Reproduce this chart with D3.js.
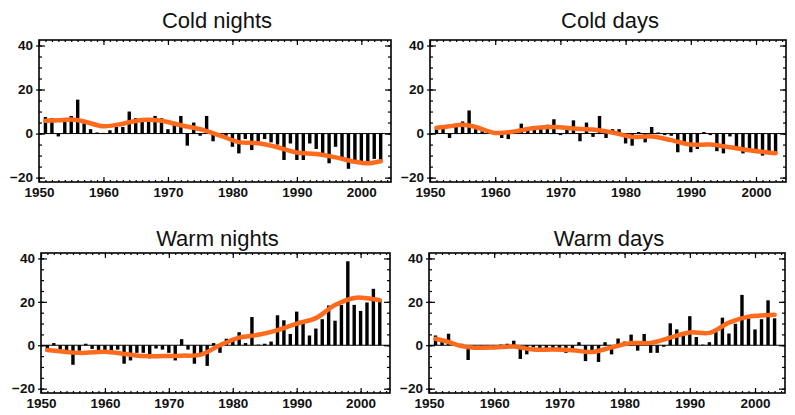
<!DOCTYPE html>
<html lang="en">
<head>
<meta charset="utf-8">
<title>Temperature extremes</title>
<script src="https://d3js.org/d3.v7.min.js"></script>
<style>
  body { margin: 0; background: #fff; }
  svg { display: block; }
  .tick text { font-family: "Liberation Sans", Arial, sans-serif; font-size: 13.5px; font-weight: bold; fill: #111; }
  .tick line { stroke: #000; stroke-width: 1.2; }
  .title { font-family: "Liberation Sans", Arial, sans-serif; font-size: 22px; fill: #111; }
</style>
</head>
<body>
<script>
// data (anomalies, %)
const years = d3.range(1951, 2004);

const coldNights = [7.5, 7, -1.3, 5.5, 8, 15.4, 4.7, 2, 0.5, 0.3, 1.5, 3, 3, 10, 7, 6, 6, 8, 7, 2,
  5, 8, -5.5, 5, -1, 8, -3.5, -0.5, -1, -6, -9, -2.5, -7.5, -5, -2.5, -4, -5, -12, -4.5, -12,
  -12, -4.5, -7, -10.5, -13.5, -6, -12, -16, -12.5, -13, -14, -11.5, -13];

const coldDays = [3, 2.5, -2, 4.5, 5.5, 10.5, 2, 1, 0.5, 0.3, -2, -2.5, 1, 4.5, 2, 2, 2.5, 4, 6.5, -0.7,
  2, 6, -3.5, 5, -1.5, 8, -2, 2, 2, -4.5, -5.5, 0.7, -4, 3, 0.5, -0.7, -1, -8.5, -4, -8.5,
  -7, 0.7, -0.7, -8, -9, -1.3, -6.5, -9, -7, -7.5, -10, -8, -9];

const warmNights = [-3, 1, -2, -2.5, -9, -2.5, 0.7, -1.7, -2.5, -3, -2.5, -2, -8.5, -7, -3.5, -3.5, -6, -1.5, -2, -3.5,
  -7, 2.8, -2, -8.5, -4, -9.5, 1, -3.5, 3, 2, 6, 1, 13, 0.3, 0.7, 1.7, 13.8, 11.5, 5.2, 15.5,
  11.3, 4.5, 7.7, 12, 18.3, 11.3, 18.6, 38.7, 18.6, 15.8, 19.7, 26, 20.4];

const warmDays = [4.5, 2, 5.3, 1, 0.7, -6.8, -0.7, -0.7, -0.7, -1.4, 0.3, 0.7, 2.1, -6.3, -4.2, -1, -2.8, -1.4, -2, -1.4,
  -3.5, -2, 1.4, -7.3, -3.5, -7.7, 1.4, -4.2, 3.1, 1.7, 4.9, -2.5, 5.2, -3.5, -3.5, -0.7, 10.1, 7.3, 5.2, 13.4,
  3.8, 0.3, 1.4, 6.3, 12.7, 5.4, 9.9, 23.2, 12.4, 7.3, 12, 20.7, 12.4];

// smoothed curves, read at these years
const smoothYears = [1951, 1953, 1955, 1957, 1960, 1963, 1966, 1969, 1972, 1975, 1978, 1981, 1984, 1987, 1990, 1993, 1996, 1999, 2001, 2003];
const coldNightsSmooth = [5.8, 6.0, 6.4, 5.5, 3.3, 4.5, 6.2, 5.8, 3.8, 2.0, -0.8, -3.9, -4.4, -6.2, -8.6, -9.3, -10.8, -12.8, -13.5, -12.6];
const coldDaysSmooth = [2.6, 3.3, 4.0, 3.0, 0.3, 1.0, 2.5, 3.0, 2.3, 1.8, 0.5, -1.5, -1.3, -3.0, -5.0, -5.0, -6.2, -7.6, -8.3, -8.9];
const warmNightsSmooth = [-2.2, -2.8, -3.4, -3.5, -3.0, -4.0, -5.0, -5.0, -4.8, -4.3, 0.0, 3.5, 4.8, 7.0, 10.0, 12.5, 18.5, 21.8, 21.7, 20.8];
const warmDaysSmooth = [3.0, 1.5, -0.4, -1.1, -1.0, -0.6, -2.0, -2.0, -2.3, -3.1, -1.0, 1.0, 1.1, 3.5, 5.9, 5.7, 10.4, 13.2, 13.7, 14.0];

const titles = ["Cold nights", "Cold days", "Warm nights", "Warm days"];
const yTicks = [-20, 0, 20, 40];

const panels = [
  {title: titles[0], bars: coldNights, smooth: coldNightsSmooth, box: [39, 391, 40, 182], ty: 28},
  {title: titles[1], bars: coldDays, smooth: coldDaysSmooth, box: [430, 786, 40, 182], ty: 28},
  {title: titles[2], bars: warmNights, smooth: warmNightsSmooth, box: [41, 390, 253, 393], ty: 246},
  {title: titles[3], bars: warmDays, smooth: warmDaysSmooth, box: [429, 785, 253, 393], ty: 246}
];

const svg = d3.select("body").append("svg")
  .attr("width", 795)
  .attr("height", 415);

panels.forEach(p => {
  const [x0, x1, y0, y1] = p.box;
  const x = d3.scaleLinear().domain([1950, 2004.6]).range([x0, x1]);
  const y = d3.scaleLinear().domain([-22, 42.5]).range([y1, y0]);
  const g = svg.append("g");

  // title
  g.append("text").attr("class", "title")
    .attr("x", (x0 + x1) / 2 + 2).attr("y", p.ty)
    .attr("text-anchor", "middle")
    .text(p.title);

  // zero line
  g.append("line")
    .attr("x1", x0).attr("x2", x1)
    .attr("y1", y(0)).attr("y2", y(0))
    .attr("stroke", "#000").attr("stroke-width", 1);

  // bars
  g.selectAll("rect.bar").data(p.bars).enter().append("rect")
    .attr("class", "bar")
    .attr("x", (d, i) => x(years[i]) - 1.7)
    .attr("width", 3.4)
    .attr("y", d => y(Math.max(0, d)))
    .attr("height", d => Math.abs(y(d) - y(0)))
    .attr("fill", "#000");

  // smooth curve
  const line = d3.line()
    .x((d, i) => x(smoothYears[i]))
    .y(d => y(d))
    .curve(d3.curveCatmullRom.alpha(0.5));
  g.append("path").datum(p.smooth)
    .attr("d", line)
    .attr("fill", "none")
    .attr("stroke", "#ff6a1c")
    .attr("stroke-width", 4.5)
    .attr("stroke-linecap", "round");

  // axes: ticks inward on all four sides
  const minorY = d3.range(-20, 41, 5);
  const majorX = d3.range(1950, 2001, 10);
  const minorX = d3.range(1950, 2005, 1);

  g.append("g").attr("transform", `translate(${x0},0)`)
    .call(d3.axisLeft(y).tickValues(yTicks).tickSize(-6).tickPadding(6)
      .tickFormat(d => d < 0 ? "\u2212" + Math.abs(d) : d))
    .call(a => a.select(".domain").remove());
  g.append("g").attr("transform", `translate(${x0},0)`)
    .call(d3.axisLeft(y).tickValues(yTicks).tickSize(3).tickFormat(""))
    .call(a => a.select(".domain").remove());
  g.append("g").attr("transform", `translate(${x0},0)`)
    .call(d3.axisLeft(y).tickValues(minorY).tickSize(-3).tickFormat(""))
    .call(a => a.select(".domain").remove());
  g.append("g").attr("transform", `translate(${x1},0)`)
    .call(d3.axisRight(y).tickValues(yTicks).tickSize(-6).tickFormat(""))
    .call(a => a.select(".domain").remove());
  g.append("g").attr("transform", `translate(${x1},0)`)
    .call(d3.axisRight(y).tickValues(minorY).tickSize(-3).tickFormat(""))
    .call(a => a.select(".domain").remove());

  g.append("g").attr("transform", `translate(0,${y1})`)
    .call(d3.axisBottom(x).tickValues(majorX).tickSize(-5).tickPadding(5).tickFormat(d3.format("d")))
    .call(a => a.select(".domain").remove());
  g.append("g").attr("transform", `translate(0,${y1})`)
    .call(d3.axisBottom(x).tickValues(minorX).tickSize(-2).tickFormat(""))
    .call(a => a.select(".domain").remove());
  g.append("g").attr("transform", `translate(0,${y0})`)
    .call(d3.axisTop(x).tickValues(majorX).tickSize(-5).tickFormat(""))
    .call(a => a.select(".domain").remove());
  g.append("g").attr("transform", `translate(0,${y0})`)
    .call(d3.axisTop(x).tickValues(minorX).tickSize(-2).tickFormat(""))
    .call(a => a.select(".domain").remove());

  // frame
  g.append("rect")
    .attr("x", x0).attr("y", y0)
    .attr("width", x1 - x0).attr("height", y1 - y0)
    .attr("fill", "none")
    .attr("stroke", "#000").attr("stroke-width", 1.6);
});
</script>
</body>
</html>
